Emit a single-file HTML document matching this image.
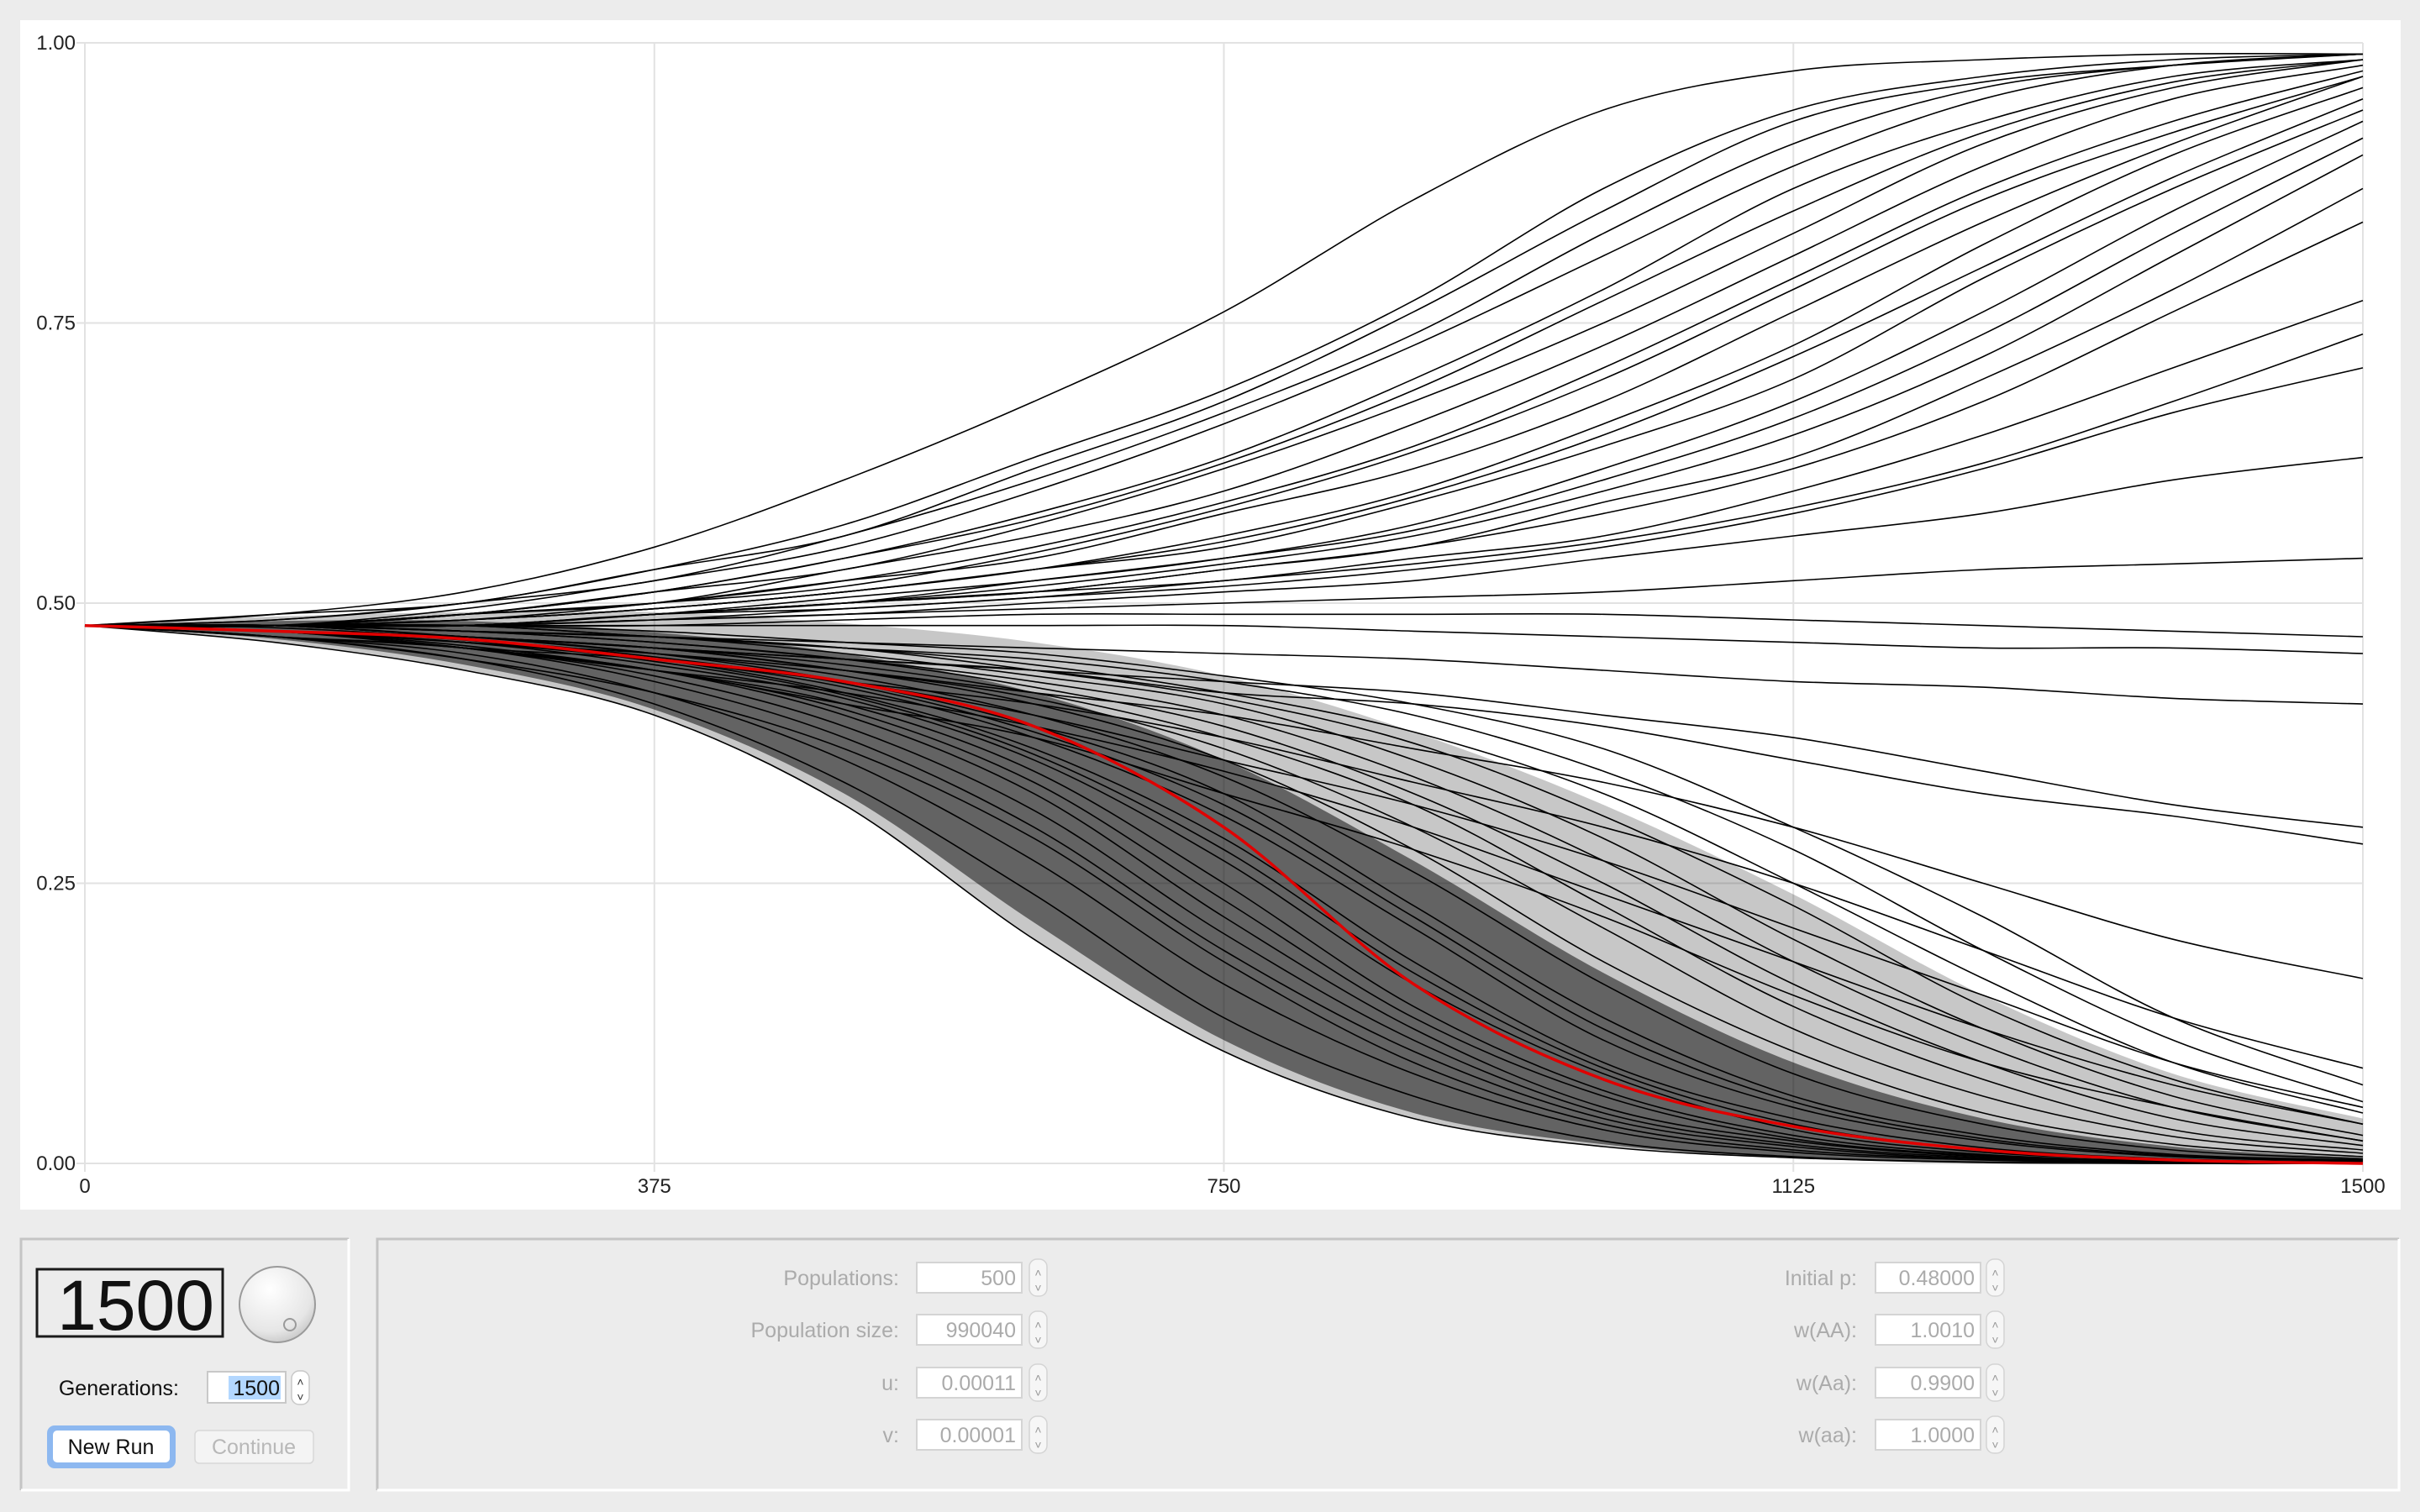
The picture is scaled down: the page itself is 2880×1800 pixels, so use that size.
<!DOCTYPE html>
<html><head><meta charset="utf-8"><style>
html,body{margin:0;padding:0;background:#ececec;}
svg{display:block;}
text{font-family:"Liberation Sans",sans-serif;}
</style></head><body>
<svg id="root" width="2880" height="1800" viewBox="0 0 2880 1800" xmlns="http://www.w3.org/2000/svg">
<defs>
<radialGradient id="knobg" cx="0.4" cy="0.3" r="0.8"><stop offset="0" stop-color="#ffffff"/><stop offset="0.7" stop-color="#e6e6e6"/><stop offset="1" stop-color="#bdbdbd"/></radialGradient>
</defs>
<rect x="0" y="0" width="2880" height="1800" fill="#ececec"/>
<rect x="24" y="24" width="2833" height="1416" fill="#ffffff"/>
<g id="grid"></g>
<g id="bands"></g>
<g id="lines"></g>
<g id="axes"></g>

<g>
<path d="M25 1774 V1475 H415" fill="none" stroke="#c4c4c4" stroke-width="3"/>
<path d="M415 1475 V1774 H25" fill="none" stroke="#ffffff" stroke-width="3"/>
<rect x="44" y="1511" width="221" height="80" fill="#ececec" stroke="#1a1a1a" stroke-width="3"/>
<text x="255" y="1583" text-anchor="end" font-size="84" font-family="Liberation Sans Narrow, Liberation Sans, sans-serif" fill="#111">1500</text>
<circle cx="330" cy="1553" r="45" fill="url(#knobg)" stroke="#9a9a9a" stroke-width="2"/>
<circle cx="345" cy="1577" r="7" fill="none" stroke="#9a9a9a" stroke-width="2"/>
<text x="213" y="1661" text-anchor="end" font-size="25" fill="#111">Generations:</text>
<rect x="247" y="1633" width="93" height="37" fill="#fff" stroke="#c8c8c8" stroke-width="2"/>
<rect x="272" y="1638" width="62" height="28" fill="#b3d7ff"/>
<text x="333" y="1661" text-anchor="end" font-size="25" fill="#111">1500</text>
<rect x="347" y="1632" width="21" height="40" rx="9" fill="#fff" stroke="#c8c8c8" stroke-width="1.5"/>
<text x="357.5" y="1650" text-anchor="middle" font-size="14" fill="#333">˄</text>
<text x="357.5" y="1668" text-anchor="middle" font-size="14" fill="#333">˅</text>
<rect x="56" y="1697" width="153" height="51" rx="9" fill="#8db8f0"/>
<rect x="63" y="1703" width="139" height="38" rx="5" fill="#fff"/>
<text x="132" y="1731" text-anchor="middle" font-size="25" fill="#111">New Run</text>
<rect x="232" y="1703" width="141" height="39" rx="5" fill="#f4f4f4" stroke="#d8d8d8" stroke-width="1.5"/>
<text x="302" y="1731" text-anchor="middle" font-size="25" fill="#b8b8b8">Continue</text>
</g>

<g id="params">
<path d="M449 1774 V1475 H2855" fill="none" stroke="#c4c4c4" stroke-width="3"/>
<path d="M2855 1475 V1774 H449" fill="none" stroke="#ffffff" stroke-width="3"/>
</g>
</svg>
<script>
const sampleGenerations = [0,125,250,375,500,625,750,875,1000,1125,1250,1375,1500];
const xTickLabels = ["0","375","750","1125","1500"];
const xTickValues = [0,375,750,1125,1500];
const yTickLabels = ["0.00","0.25","0.50","0.75","1.00"];
const yTickValues = [0,0.25,0.5,0.75,1];
const upSeries = [
[.48,.49,.51,.55,.61,.68,.76,.86,.94,.975,.985,.99,.99],
[.48,.485,.50,.53,.57,.63,.69,.77,.87,.94,.97,.985,.99],
[.48,.485,.50,.52,.56,.61,.67,.74,.83,.91,.96,.98,.99],
[.48,.48,.495,.52,.55,.60,.66,.73,.81,.89,.95,.98,.99],
[.48,.48,.49,.51,.54,.58,.63,.70,.78,.87,.93,.97,.985],
[.48,.48,.49,.51,.53,.57,.62,.68,.75,.83,.91,.96,.985],
[.48,.48,.49,.50,.53,.56,.60,.66,.73,.81,.89,.95,.98],
[.48,.48,.49,.50,.52,.55,.59,.64,.71,.79,.87,.93,.975],
[.48,.48,.485,.50,.52,.54,.58,.62,.68,.76,.84,.91,.97],
[.48,.48,.485,.495,.51,.53,.56,.60,.66,.73,.82,.90,.96],
[.48,.48,.485,.495,.51,.53,.55,.59,.64,.70,.79,.87,.94],
[.48,.48,.48,.49,.505,.52,.54,.57,.62,.68,.76,.85,.93],
[.48,.48,.48,.49,.50,.515,.535,.56,.60,.65,.72,.81,.90],
[.48,.48,.48,.49,.50,.51,.53,.55,.58,.62,.68,.76,.84],
[.48,.48,.48,.49,.50,.51,.52,.54,.56,.60,.65,.71,.77],
[.48,.48,.48,.49,.495,.505,.515,.53,.55,.58,.62,.67,.71],
[.48,.48,.48,.485,.49,.50,.51,.52,.54,.56,.58,.61,.63],
[.48,.48,.48,.485,.49,.495,.50,.505,.51,.52,.53,.535,.54],
[.48,.48,.48,.48,.485,.49,.49,.49,.49,.485,.48,.475,.47],
[.48,.48,.48,.48,.48,.48,.48,.475,.47,.465,.46,.46,.455],
[.48,.49,.50,.53,.56,.62,.68,.76,.85,.93,.965,.98,.99],
[.48,.48,.49,.51,.54,.575,.625,.69,.77,.85,.92,.965,.985],
[.48,.48,.49,.50,.515,.545,.585,.635,.70,.78,.86,.92,.97],
[.48,.48,.485,.495,.51,.53,.555,.595,.65,.72,.80,.88,.95],
[.48,.48,.48,.49,.50,.52,.54,.565,.61,.665,.74,.83,.915],
[.48,.48,.48,.49,.50,.51,.53,.55,.59,.63,.70,.78,.87],
[.48,.48,.48,.485,.495,.505,.52,.535,.555,.585,.625,.68,.74]
];
const midSeries = [
[.48,.48,.475,.47,.465,.46,.455,.45,.44,.43,.425,.415,.41],
[.48,.475,.47,.46,.45,.44,.43,.42,.40,.38,.35,.32,.30],
[.48,.475,.47,.46,.45,.44,.42,.41,.39,.36,.33,.31,.285],
[.48,.475,.465,.455,.44,.42,.40,.37,.34,.30,.25,.20,.165],
[.48,.475,.465,.45,.43,.41,.38,.34,.30,.25,.19,.13,.085],
[.48,.475,.46,.45,.43,.40,.36,.32,.27,.21,.15,.09,.05],
[.48,.475,.46,.44,.42,.39,.35,.30,.24,.18,.12,.07,.035],
[.48,.47,.46,.44,.41,.38,.33,.28,.22,.15,.09,.05,.02]
];
const downSeries = [
[.48,.465,.44,.40,.32,.20,.10,.04,.015,.005,.001,0,0],
[.48,.47,.45,.41,.34,.24,.13,.06,.02,.006,.001,0,0],
[.48,.47,.455,.42,.36,.27,.16,.08,.03,.01,.003,0,0],
[.48,.47,.46,.43,.38,.30,.19,.10,.04,.015,.004,.001,0],
[.48,.475,.46,.44,.40,.33,.22,.12,.05,.02,.006,.002,0],
[.48,.475,.46,.44,.41,.35,.25,.14,.065,.025,.008,.002,0],
[.48,.475,.465,.445,.415,.36,.27,.16,.08,.03,.01,.003,0],
[.48,.475,.465,.45,.42,.37,.29,.18,.09,.04,.014,.004,.001],
[.48,.475,.465,.45,.425,.38,.31,.21,.11,.05,.02,.006,.002],
[.48,.475,.47,.455,.43,.39,.33,.23,.13,.06,.025,.008,.003],
[.48,.48,.47,.455,.435,.40,.345,.26,.16,.08,.035,.012,.004],
[.48,.48,.47,.46,.44,.41,.36,.28,.18,.10,.045,.017,.006],
[.48,.48,.47,.46,.44,.415,.37,.30,.21,.12,.06,.024,.009],
[.48,.48,.47,.46,.445,.42,.38,.32,.23,.14,.075,.03,.012],
[.48,.48,.475,.465,.45,.425,.39,.33,.25,.16,.09,.04,.016],
[.48,.48,.475,.465,.45,.43,.40,.345,.27,.18,.105,.05,.02],
[.48,.48,.475,.47,.455,.435,.41,.36,.29,.20,.12,.06,.025],
[.48,.48,.475,.47,.46,.44,.415,.375,.31,.23,.14,.075,.035],
[.48,.48,.48,.47,.46,.445,.42,.385,.33,.25,.165,.09,.045],
[.48,.48,.48,.47,.46,.45,.43,.40,.35,.28,.19,.11,.055],
[.48,.48,.48,.475,.465,.455,.435,.41,.37,.30,.22,.13,.07],
[.48,.47,.45,.42,.37,.29,.18,.09,.035,.012,.004,.001,0],
[.48,.475,.46,.435,.39,.315,.205,.11,.045,.017,.005,.001,0],
[.48,.475,.462,.44,.405,.34,.235,.13,.06,.022,.007,.002,0],
[.48,.475,.467,.448,.418,.365,.28,.17,.085,.035,.012,.003,.001],
[.48,.478,.468,.452,.428,.385,.32,.22,.12,.055,.022,.007,.002]
];
const redSeries = [.48,.475,.468,.45,.43,.39,.30,.16,.075,.033,.012,.003,0];
const outerBandUpper = [.48,.488,.492,.492,.482,.465,.435,.385,.32,.24,.15,.08,.04];
const outerBandLower = [.48,.465,.44,.40,.32,.20,.10,.04,.015,.005,.001,0,0];
const innerBandUpper = [.48,.484,.484,.474,.455,.42,.36,.27,.17,.09,.04,.015,.005];
const innerBandLower = [.48,.468,.445,.405,.33,.215,.11,.045,.017,.005,0,0,0];

const params = [
 {label:"Populations:", value:"500", col:0},
 {label:"Population size:", value:"990040", col:0},
 {label:"u:", value:"0.00011", col:0},
 {label:"v:", value:"0.00001", col:0},
 {label:"Initial p:", value:"0.48000", col:1},
 {label:"w(AA):", value:"1.0010", col:1},
 {label:"w(Aa):", value:"0.9900", col:1},
 {label:"w(aa):", value:"1.0000", col:1}
];

const PX0=101, PX1=2812, PY0=1385, PY1=51;
function xScale(t){return PX0+(t/1500)*(PX1-PX0);}
function yScale(p){return PY0-p*(PY0-PY1);}
const NS="http://www.w3.org/2000/svg";
function mk(tag,attrs,parent){const e=document.createElementNS(NS,tag);for(const k in attrs)e.setAttribute(k,attrs[k]);parent.appendChild(e);return e;}
function pts(vals){return vals.map((v,i)=>[xScale(sampleGenerations[i]),yScale(v)]);}
function smooth(P){
 let d="M"+P[0][0].toFixed(1)+" "+P[0][1].toFixed(1);
 for(let i=0;i<P.length-1;i++){
  const p0=P[Math.max(0,i-1)],p1=P[i],p2=P[i+1],p3=P[Math.min(P.length-1,i+2)];
  const c1=[p1[0]+(p2[0]-p0[0])/6,p1[1]+(p2[1]-p0[1])/6];
  const c2=[p2[0]-(p3[0]-p1[0])/6,p2[1]-(p3[1]-p1[1])/6];
  d+="C"+c1[0].toFixed(1)+" "+c1[1].toFixed(1)+" "+c2[0].toFixed(1)+" "+c2[1].toFixed(1)+" "+p2[0].toFixed(1)+" "+p2[1].toFixed(1);
 }
 return d;
}

const grid=document.getElementById('grid');
yTickValues.forEach(v=>{const l=mk('line',{x1:PX0-10,x2:PX1,y1:yScale(v),y2:yScale(v),stroke:'#e2e2e2','stroke-width':2},grid);

});
xTickValues.forEach(v=>{const l=mk('line',{x1:xScale(v),x2:xScale(v),y1:PY1,y2:PY0+10,stroke:'#e2e2e2','stroke-width':2},grid);

});

const bands=document.getElementById('bands');
function band(up,lo,op,name){
 const U=pts(up),L=pts(lo).reverse();
 const d=smooth(U)+"L"+smooth(L).slice(1)+"Z";
 const e=mk('path',{d:d,fill:'#000','fill-opacity':op},bands);
 
 
}
band(outerBandUpper,outerBandLower,0.22,'outer-density-band');
band(innerBandUpper,innerBandLower,0.5,'inner-density-band');

const lines=document.getElementById('lines');
function drawLine(vals,color,w,name){
 const e=mk('path',{d:smooth(pts(vals)),fill:'none',stroke:color,'stroke-width':w,'stroke-linejoin':'round'},lines);
 
 
}
upSeries.forEach(s=>drawLine(s,'#000',1.6,'trajectory-fixing'));
midSeries.forEach(s=>drawLine(s,'#000',1.6,'trajectory-drifting'));
downSeries.forEach(s=>drawLine(s,'#000',1.6,'trajectory-lost'));
drawLine(redSeries,'#e00000',3.5,'highlighted-trajectory');

const axes=document.getElementById('axes');
yTickValues.forEach((v,i)=>{const t=mk('text',{x:90,y:yScale(v)+8,'text-anchor':'end','font-size':24,fill:'#222'},axes);t.textContent=yTickLabels[i];

});
xTickValues.forEach((v,i)=>{const t=mk('text',{x:xScale(v),y:1420,'text-anchor':'middle','font-size':24,fill:'#222'},axes);t.textContent=xTickLabels[i];

});

const pg=document.getElementById('params');
const rowY=[1521,1583,1646,1708];
params.forEach((p,i)=>{
 const r=i%4, y=rowY[r];
 const lblX=p.col?2210:1070, fx=p.col?2232:1091, sx=p.col?2364:1225;
 const t=mk('text',{x:lblX,y:y+9,'text-anchor':'end','font-size':25,fill:'#ababab'},pg);t.textContent=p.label;
 
 
 const f=mk('rect',{x:fx,y:y-18,width:125,height:36,fill:'#fff',stroke:'#d4d4d4','stroke-width':2},pg);
 
 
 const v=mk('text',{x:fx+118,y:y+9,'text-anchor':'end','font-size':25,fill:'#ababab'},pg);v.textContent=p.value;
 
 
 const s=mk('rect',{x:sx,y:y-22,width:21,height:44,rx:9,fill:'#f6f6f6',stroke:'#d4d4d4','stroke-width':1.5},pg);
 
 
 const a=mk('text',{x:sx+10.5,y:y-1,'text-anchor':'middle','font-size':14,fill:'#999'},pg);a.textContent='˄';
 const b=mk('text',{x:sx+10.5,y:y+17,'text-anchor':'middle','font-size':14,fill:'#999'},pg);b.textContent='˅';
});
</script>
</body></html>
